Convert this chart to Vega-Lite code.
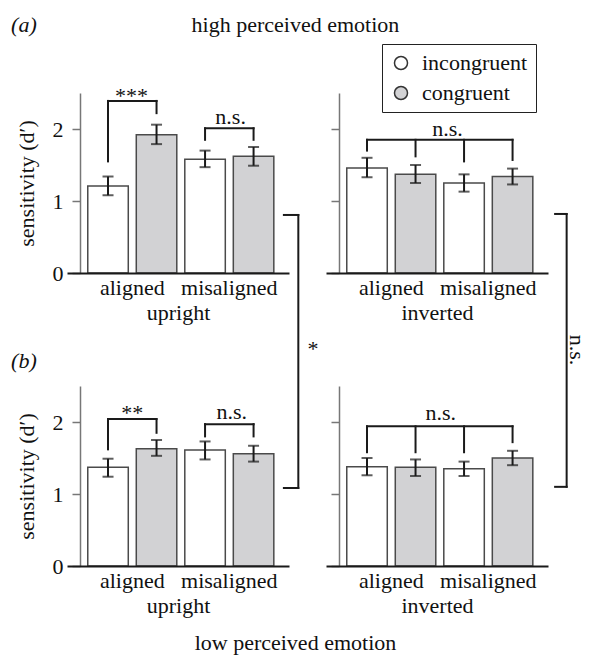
{
  "$schema": "https://vega.github.io/schema/vega-lite/v6.json",
  "autosize": {"type": "none"},
  "padding": {"left": 67, "top": 93, "right": 524, "bottom": 563},
  "datasets": {
    "bars": [
      {"panel": "A_up", "alignment": "aligned", "congruency": "incongruent", "d": 1.21, "lo": 1.08, "hi": 1.34},
      {"panel": "A_up", "alignment": "aligned", "congruency": "congruent", "d": 1.92, "lo": 1.79, "hi": 2.06},
      {"panel": "A_up", "alignment": "misaligned", "congruency": "incongruent", "d": 1.58, "lo": 1.47, "hi": 1.70},
      {"panel": "A_up", "alignment": "misaligned", "congruency": "congruent", "d": 1.62, "lo": 1.49, "hi": 1.75},
      {"panel": "A_inv", "alignment": "aligned", "congruency": "incongruent", "d": 1.46, "lo": 1.33, "hi": 1.60},
      {"panel": "A_inv", "alignment": "aligned", "congruency": "congruent", "d": 1.37, "lo": 1.25, "hi": 1.50},
      {"panel": "A_inv", "alignment": "misaligned", "congruency": "incongruent", "d": 1.25, "lo": 1.13, "hi": 1.37},
      {"panel": "A_inv", "alignment": "misaligned", "congruency": "congruent", "d": 1.34, "lo": 1.23, "hi": 1.45},
      {"panel": "B_up", "alignment": "aligned", "congruency": "incongruent", "d": 1.37, "lo": 1.24, "hi": 1.49},
      {"panel": "B_up", "alignment": "aligned", "congruency": "congruent", "d": 1.63, "lo": 1.53, "hi": 1.75},
      {"panel": "B_up", "alignment": "misaligned", "congruency": "incongruent", "d": 1.61, "lo": 1.48, "hi": 1.73},
      {"panel": "B_up", "alignment": "misaligned", "congruency": "congruent", "d": 1.56, "lo": 1.45, "hi": 1.67},
      {"panel": "B_inv", "alignment": "aligned", "congruency": "incongruent", "d": 1.38, "lo": 1.26, "hi": 1.50},
      {"panel": "B_inv", "alignment": "aligned", "congruency": "congruent", "d": 1.37, "lo": 1.25, "hi": 1.48},
      {"panel": "B_inv", "alignment": "misaligned", "congruency": "incongruent", "d": 1.35, "lo": 1.25, "hi": 1.45},
      {"panel": "B_inv", "alignment": "misaligned", "congruency": "congruent", "d": 1.50, "lo": 1.40, "hi": 1.60}
    ],
    "legs": [
      {"panel": "A_up", "bracket": "b1", "alignment": "aligned", "congruency": "incongruent", "top": 2.39, "bottom": 1.55},
      {"panel": "A_up", "bracket": "b1", "alignment": "aligned", "congruency": "congruent", "top": 2.39, "bottom": 2.22},
      {"panel": "A_up", "bracket": "b2", "alignment": "misaligned", "congruency": "incongruent", "top": 2.01, "bottom": 1.85},
      {"panel": "A_up", "bracket": "b2", "alignment": "misaligned", "congruency": "congruent", "top": 2.01, "bottom": 1.85},
      {"panel": "A_inv", "bracket": "b3", "alignment": "aligned", "congruency": "incongruent", "top": 1.85, "bottom": 1.70},
      {"panel": "A_inv", "bracket": "b3", "alignment": "aligned", "congruency": "congruent", "top": 1.85, "bottom": 1.62},
      {"panel": "A_inv", "bracket": "b3", "alignment": "misaligned", "congruency": "incongruent", "top": 1.85, "bottom": 1.55},
      {"panel": "A_inv", "bracket": "b3", "alignment": "misaligned", "congruency": "congruent", "top": 1.85, "bottom": 1.57},
      {"panel": "B_up", "bracket": "b4", "alignment": "aligned", "congruency": "incongruent", "top": 2.04, "bottom": 1.62},
      {"panel": "B_up", "bracket": "b4", "alignment": "aligned", "congruency": "congruent", "top": 2.04, "bottom": 1.85},
      {"panel": "B_up", "bracket": "b5", "alignment": "misaligned", "congruency": "incongruent", "top": 1.97, "bottom": 1.80},
      {"panel": "B_up", "bracket": "b5", "alignment": "misaligned", "congruency": "congruent", "top": 1.97, "bottom": 1.80},
      {"panel": "B_inv", "bracket": "b6", "alignment": "aligned", "congruency": "incongruent", "top": 1.94, "bottom": 1.58},
      {"panel": "B_inv", "bracket": "b6", "alignment": "aligned", "congruency": "congruent", "top": 1.94, "bottom": 1.58},
      {"panel": "B_inv", "bracket": "b6", "alignment": "misaligned", "congruency": "incongruent", "top": 1.94, "bottom": 1.58},
      {"panel": "B_inv", "bracket": "b6", "alignment": "misaligned", "congruency": "congruent", "top": 1.94, "bottom": 1.72}
    ],
    "notes": [
      {"panel": "A_up", "x": 0.291, "y": 2.46, "label": "***"},
      {"panel": "A_up", "x": 0.737, "y": 2.17, "label": "n.s."},
      {"panel": "A_up", "x": 1.108, "y": -1.05, "label": "*"},
      {"panel": "A_up", "x": 1.029, "y": 3.44, "label": "high perceived emotion"},
      {"panel": "A_inv", "x": 0.547, "y": 2.0, "label": "n.s."},
      {"panel": "B_up", "x": 0.294, "y": 2.12, "label": "**"},
      {"panel": "B_up", "x": 0.742, "y": 2.14, "label": "n.s."},
      {"panel": "B_up", "x": 1.029, "y": -1.07, "label": "low perceived emotion"},
      {"panel": "B_inv", "x": 0.517, "y": 2.12, "label": "n.s."}
    ],
    "tags": [
      {"panel": "A_up", "x": -0.194, "y": 3.44, "label": "(a)"},
      {"panel": "B_up", "x": -0.194, "y": 2.85, "label": "(b)"}
    ],
    "sidenotes": [
      {"panel": "A_inv", "x": 1.13, "y": -1.07, "label": "n.s."}
    ],
    "links": [
      {"panel": "A_up", "x": 1.042, "x2": 1.042, "y": 0.806, "y2": -2.986},
      {"panel": "A_up", "x": 0.977, "x2": 1.042, "y": 0.806, "y2": 0.806},
      {"panel": "A_up", "x": 0.977, "x2": 1.042, "y": -2.986, "y2": -2.986},
      {"panel": "A_inv", "x": 1.084, "x2": 1.084, "y": 0.82, "y2": -2.97},
      {"panel": "A_inv", "x": 1.032, "x2": 1.084, "y": 0.82, "y2": 0.82},
      {"panel": "A_inv", "x": 1.032, "x2": 1.084, "y": -2.97, "y2": -2.97}
    ]
  },
  "columns": 2,
  "spacing": {"row": 113, "column": 37},
  "bounds": "flush",
  "concat": [
    {
      "width": 222, "height": 180,
      "layer": [
        {
          "layer": [
            {
              "data": {"name": "bars"},
              "transform": [{"filter": "datum.panel == 'A_up'"}],
              "mark": {"type": "bar", "stroke": "#4a4a4a", "strokeWidth": 1.5},
              "encoding": {
                "x": {"field": "alignment", "type": "nominal", "sort": ["aligned", "misaligned"], "scale": {"paddingInner": 0, "paddingOuter": 0.144, "align": 0.6}, "axis": {"title": "upright", "labelAngle": 0, "ticks": false, "domainColor": "#1a1a1a", "domainWidth": 2, "labelPadding": 4, "titlePadding": 4, "zindex": 1}},
                "xOffset": {"field": "congruency", "type": "nominal", "sort": ["incongruent", "congruent"], "scale": {"paddingInner": 0.165, "paddingOuter": 0.0825}},
                "y": {"field": "d", "type": "quantitative", "scale": {"domain": [0, 2.5], "nice": false}, "axis": {"title": "sensitivity (d′)", "values": [0, 0.5, 1, 1.5, 2, 2.5], "labelExpr": "datum.value % 1 == 0 ? '' + datum.value : ''", "offset": -13, "domainColor": "#777", "domainWidth": 1.5, "tickColor": "#777", "tickWidth": 1.5, "tickSize": 8, "labelPadding": 9, "titlePadding": 14}},
                "fill": {"field": "congruency", "type": "nominal", "scale": {"domain": ["incongruent", "congruent"], "range": ["#ffffff", "#d2d2d4"]}, "legend": {"title": null, "labelLimit": 0, "labelExpr": "datum.label + '\u2002\u2002\u2009'"}}
              }
            },
            {
              "data": {"name": "bars"},
              "transform": [{"filter": "datum.panel == 'A_up'"}],
              "mark": {"type": "rule", "color": "#1a1a1a", "strokeWidth": 2},
              "encoding": {
                "x": {"field": "alignment", "type": "nominal", "sort": ["aligned", "misaligned"]},
                "xOffset": {"field": "congruency", "type": "nominal", "sort": ["incongruent", "congruent"]},
                "y": {"field": "lo", "type": "quantitative"},
                "y2": {"field": "hi"}
              }
            },
            {
              "data": {"name": "bars"},
              "transform": [{"filter": "datum.panel == 'A_up'"}],
              "mark": {"type": "tick", "color": "#1a1a1a", "thickness": 2, "size": 11, "orient": "horizontal"},
              "encoding": {
                "x": {"field": "alignment", "type": "nominal", "sort": ["aligned", "misaligned"]},
                "xOffset": {"field": "congruency", "type": "nominal", "sort": ["incongruent", "congruent"]},
                "y": {"field": "lo", "type": "quantitative"}
              }
            },
            {
              "data": {"name": "bars"},
              "transform": [{"filter": "datum.panel == 'A_up'"}],
              "mark": {"type": "tick", "color": "#1a1a1a", "thickness": 2, "size": 11, "orient": "horizontal"},
              "encoding": {
                "x": {"field": "alignment", "type": "nominal", "sort": ["aligned", "misaligned"]},
                "xOffset": {"field": "congruency", "type": "nominal", "sort": ["incongruent", "congruent"]},
                "y": {"field": "hi", "type": "quantitative"}
              }
            },
            {
              "data": {"name": "legs"},
              "transform": [{"filter": "datum.panel == 'A_up'"}],
              "mark": {"type": "rule", "color": "#1a1a1a", "strokeWidth": 2, "strokeCap": "square"},
              "encoding": {
                "x": {"field": "alignment", "type": "nominal", "sort": ["aligned", "misaligned"]},
                "xOffset": {"field": "congruency", "type": "nominal", "sort": ["incongruent", "congruent"]},
                "y": {"field": "top", "type": "quantitative"},
                "y2": {"field": "bottom"}
              }
            },
            {
              "data": {"name": "legs"},
              "transform": [{"filter": "datum.panel == 'A_up'"}],
              "mark": {"type": "line", "color": "#1a1a1a", "strokeWidth": 2, "strokeCap": "square"},
              "encoding": {
                "x": {"field": "alignment", "type": "nominal", "sort": ["aligned", "misaligned"]},
                "xOffset": {"field": "congruency", "type": "nominal", "sort": ["incongruent", "congruent"]},
                "y": {"field": "top", "type": "quantitative"},
                "detail": {"field": "bracket"}
              }
            }
          ]
        },
        {
          "layer": [
            {
              "data": {"name": "notes"},
              "transform": [{"filter": "datum.panel == 'A_up'"}],
              "mark": {"type": "text", "baseline": "middle", "align": "center"},
              "encoding": {
                "x": {"field": "x", "type": "quantitative", "scale": {"domain": [0, 1], "nice": false, "zero": false}, "axis": null},
                "y": {"field": "y", "type": "quantitative"},
                "text": {"field": "label"}
              }
            },
            {
              "data": {"name": "tags"},
              "transform": [{"filter": "datum.panel == 'A_up'"}],
              "mark": {"type": "text", "baseline": "middle", "align": "center", "fontStyle": "italic"},
              "encoding": {
                "x": {"field": "x", "type": "quantitative"},
                "y": {"field": "y", "type": "quantitative"},
                "text": {"field": "label"}
              }
            },
            {
              "data": {"name": "links"},
              "transform": [{"filter": "datum.panel == 'A_up'"}],
              "mark": {"type": "rule", "color": "#1a1a1a", "strokeWidth": 2, "strokeCap": "square"},
              "encoding": {
                "x": {"field": "x", "type": "quantitative"},
                "x2": {"field": "x2"},
                "y": {"field": "y", "type": "quantitative"},
                "y2": {"field": "y2"}
              }
            }
          ]
        }
      ],
      "resolve": {"scale": {"x": "independent"}}
    },
    {
      "width": 222, "height": 180,
      "layer": [
        {
          "layer": [
            {
              "data": {"name": "bars"},
              "transform": [{"filter": "datum.panel == 'A_inv'"}],
              "mark": {"type": "bar", "stroke": "#4a4a4a", "strokeWidth": 1.5},
              "encoding": {
                "x": {"field": "alignment", "type": "nominal", "sort": ["aligned", "misaligned"], "scale": {"paddingInner": 0, "paddingOuter": 0.144, "align": 0.6}, "axis": {"title": "inverted", "labelAngle": 0, "ticks": false, "domainColor": "#1a1a1a", "domainWidth": 2, "labelPadding": 4, "titlePadding": 4, "zindex": 1}},
                "xOffset": {"field": "congruency", "type": "nominal", "sort": ["incongruent", "congruent"], "scale": {"paddingInner": 0.165, "paddingOuter": 0.0825}},
                "y": {"field": "d", "type": "quantitative", "scale": {"domain": [0, 2.5], "nice": false}, "axis": {"title": null, "labels": false, "values": [0, 0.5, 1, 1.5, 2, 2.5], "offset": -13, "domainColor": "#777", "domainWidth": 1.5, "tickColor": "#777", "tickWidth": 1.5, "tickSize": 8}},
                "fill": {"field": "congruency", "type": "nominal", "scale": {"domain": ["incongruent", "congruent"], "range": ["#ffffff", "#d2d2d4"]}, "legend": {"title": null, "labelLimit": 0, "labelExpr": "datum.label + '\u2002\u2002\u2009'"}}
              }
            },
            {
              "data": {"name": "bars"},
              "transform": [{"filter": "datum.panel == 'A_inv'"}],
              "mark": {"type": "rule", "color": "#1a1a1a", "strokeWidth": 2},
              "encoding": {
                "x": {"field": "alignment", "type": "nominal", "sort": ["aligned", "misaligned"]},
                "xOffset": {"field": "congruency", "type": "nominal", "sort": ["incongruent", "congruent"]},
                "y": {"field": "lo", "type": "quantitative"},
                "y2": {"field": "hi"}
              }
            },
            {
              "data": {"name": "bars"},
              "transform": [{"filter": "datum.panel == 'A_inv'"}],
              "mark": {"type": "tick", "color": "#1a1a1a", "thickness": 2, "size": 11, "orient": "horizontal"},
              "encoding": {
                "x": {"field": "alignment", "type": "nominal", "sort": ["aligned", "misaligned"]},
                "xOffset": {"field": "congruency", "type": "nominal", "sort": ["incongruent", "congruent"]},
                "y": {"field": "lo", "type": "quantitative"}
              }
            },
            {
              "data": {"name": "bars"},
              "transform": [{"filter": "datum.panel == 'A_inv'"}],
              "mark": {"type": "tick", "color": "#1a1a1a", "thickness": 2, "size": 11, "orient": "horizontal"},
              "encoding": {
                "x": {"field": "alignment", "type": "nominal", "sort": ["aligned", "misaligned"]},
                "xOffset": {"field": "congruency", "type": "nominal", "sort": ["incongruent", "congruent"]},
                "y": {"field": "hi", "type": "quantitative"}
              }
            },
            {
              "data": {"name": "legs"},
              "transform": [{"filter": "datum.panel == 'A_inv'"}],
              "mark": {"type": "rule", "color": "#1a1a1a", "strokeWidth": 2, "strokeCap": "square"},
              "encoding": {
                "x": {"field": "alignment", "type": "nominal", "sort": ["aligned", "misaligned"]},
                "xOffset": {"field": "congruency", "type": "nominal", "sort": ["incongruent", "congruent"]},
                "y": {"field": "top", "type": "quantitative"},
                "y2": {"field": "bottom"}
              }
            },
            {
              "data": {"name": "legs"},
              "transform": [{"filter": "datum.panel == 'A_inv'"}],
              "mark": {"type": "line", "color": "#1a1a1a", "strokeWidth": 2, "strokeCap": "square"},
              "encoding": {
                "x": {"field": "alignment", "type": "nominal", "sort": ["aligned", "misaligned"]},
                "xOffset": {"field": "congruency", "type": "nominal", "sort": ["incongruent", "congruent"]},
                "y": {"field": "top", "type": "quantitative"},
                "detail": {"field": "bracket"}
              }
            }
          ]
        },
        {
          "layer": [
            {
              "data": {"name": "notes"},
              "transform": [{"filter": "datum.panel == 'A_inv'"}],
              "mark": {"type": "text", "baseline": "middle", "align": "center"},
              "encoding": {
                "x": {"field": "x", "type": "quantitative", "scale": {"domain": [0, 1], "nice": false, "zero": false}, "axis": null},
                "y": {"field": "y", "type": "quantitative"},
                "text": {"field": "label"}
              }
            },
            {
              "data": {"name": "sidenotes"},
              "transform": [{"filter": "datum.panel == 'A_inv'"}],
              "mark": {"type": "text", "baseline": "middle", "align": "center", "angle": 90},
              "encoding": {
                "x": {"field": "x", "type": "quantitative"},
                "y": {"field": "y", "type": "quantitative"},
                "text": {"field": "label"}
              }
            },
            {
              "data": {"name": "links"},
              "transform": [{"filter": "datum.panel == 'A_inv'"}],
              "mark": {"type": "rule", "color": "#1a1a1a", "strokeWidth": 2, "strokeCap": "square"},
              "encoding": {
                "x": {"field": "x", "type": "quantitative"},
                "x2": {"field": "x2"},
                "y": {"field": "y", "type": "quantitative"},
                "y2": {"field": "y2"}
              }
            }
          ]
        }
      ],
      "resolve": {"scale": {"x": "independent"}}
    },
    {
      "width": 222, "height": 180,
      "layer": [
        {
          "layer": [
            {
              "data": {"name": "bars"},
              "transform": [{"filter": "datum.panel == 'B_up'"}],
              "mark": {"type": "bar", "stroke": "#4a4a4a", "strokeWidth": 1.5},
              "encoding": {
                "x": {"field": "alignment", "type": "nominal", "sort": ["aligned", "misaligned"], "scale": {"paddingInner": 0, "paddingOuter": 0.144, "align": 0.6}, "axis": {"title": "upright", "labelAngle": 0, "ticks": false, "domainColor": "#1a1a1a", "domainWidth": 2, "labelPadding": 4, "titlePadding": 4, "zindex": 1}},
                "xOffset": {"field": "congruency", "type": "nominal", "sort": ["incongruent", "congruent"], "scale": {"paddingInner": 0.165, "paddingOuter": 0.0825}},
                "y": {"field": "d", "type": "quantitative", "scale": {"domain": [0, 2.5], "nice": false}, "axis": {"title": "sensitivity (d′)", "values": [0, 0.5, 1, 1.5, 2, 2.5], "labelExpr": "datum.value % 1 == 0 ? '' + datum.value : ''", "offset": -13, "domainColor": "#777", "domainWidth": 1.5, "tickColor": "#777", "tickWidth": 1.5, "tickSize": 8, "labelPadding": 9, "titlePadding": 14}},
                "fill": {"field": "congruency", "type": "nominal", "scale": {"domain": ["incongruent", "congruent"], "range": ["#ffffff", "#d2d2d4"]}, "legend": {"title": null, "labelLimit": 0, "labelExpr": "datum.label + '\u2002\u2002\u2009'"}}
              }
            },
            {
              "data": {"name": "bars"},
              "transform": [{"filter": "datum.panel == 'B_up'"}],
              "mark": {"type": "rule", "color": "#1a1a1a", "strokeWidth": 2},
              "encoding": {
                "x": {"field": "alignment", "type": "nominal", "sort": ["aligned", "misaligned"]},
                "xOffset": {"field": "congruency", "type": "nominal", "sort": ["incongruent", "congruent"]},
                "y": {"field": "lo", "type": "quantitative"},
                "y2": {"field": "hi"}
              }
            },
            {
              "data": {"name": "bars"},
              "transform": [{"filter": "datum.panel == 'B_up'"}],
              "mark": {"type": "tick", "color": "#1a1a1a", "thickness": 2, "size": 11, "orient": "horizontal"},
              "encoding": {
                "x": {"field": "alignment", "type": "nominal", "sort": ["aligned", "misaligned"]},
                "xOffset": {"field": "congruency", "type": "nominal", "sort": ["incongruent", "congruent"]},
                "y": {"field": "lo", "type": "quantitative"}
              }
            },
            {
              "data": {"name": "bars"},
              "transform": [{"filter": "datum.panel == 'B_up'"}],
              "mark": {"type": "tick", "color": "#1a1a1a", "thickness": 2, "size": 11, "orient": "horizontal"},
              "encoding": {
                "x": {"field": "alignment", "type": "nominal", "sort": ["aligned", "misaligned"]},
                "xOffset": {"field": "congruency", "type": "nominal", "sort": ["incongruent", "congruent"]},
                "y": {"field": "hi", "type": "quantitative"}
              }
            },
            {
              "data": {"name": "legs"},
              "transform": [{"filter": "datum.panel == 'B_up'"}],
              "mark": {"type": "rule", "color": "#1a1a1a", "strokeWidth": 2, "strokeCap": "square"},
              "encoding": {
                "x": {"field": "alignment", "type": "nominal", "sort": ["aligned", "misaligned"]},
                "xOffset": {"field": "congruency", "type": "nominal", "sort": ["incongruent", "congruent"]},
                "y": {"field": "top", "type": "quantitative"},
                "y2": {"field": "bottom"}
              }
            },
            {
              "data": {"name": "legs"},
              "transform": [{"filter": "datum.panel == 'B_up'"}],
              "mark": {"type": "line", "color": "#1a1a1a", "strokeWidth": 2, "strokeCap": "square"},
              "encoding": {
                "x": {"field": "alignment", "type": "nominal", "sort": ["aligned", "misaligned"]},
                "xOffset": {"field": "congruency", "type": "nominal", "sort": ["incongruent", "congruent"]},
                "y": {"field": "top", "type": "quantitative"},
                "detail": {"field": "bracket"}
              }
            }
          ]
        },
        {
          "layer": [
            {
              "data": {"name": "notes"},
              "transform": [{"filter": "datum.panel == 'B_up'"}],
              "mark": {"type": "text", "baseline": "middle", "align": "center"},
              "encoding": {
                "x": {"field": "x", "type": "quantitative", "scale": {"domain": [0, 1], "nice": false, "zero": false}, "axis": null},
                "y": {"field": "y", "type": "quantitative"},
                "text": {"field": "label"}
              }
            },
            {
              "data": {"name": "tags"},
              "transform": [{"filter": "datum.panel == 'B_up'"}],
              "mark": {"type": "text", "baseline": "middle", "align": "center", "fontStyle": "italic"},
              "encoding": {
                "x": {"field": "x", "type": "quantitative"},
                "y": {"field": "y", "type": "quantitative"},
                "text": {"field": "label"}
              }
            }
          ]
        }
      ],
      "resolve": {"scale": {"x": "independent"}}
    },
    {
      "width": 222, "height": 180,
      "layer": [
        {
          "layer": [
            {
              "data": {"name": "bars"},
              "transform": [{"filter": "datum.panel == 'B_inv'"}],
              "mark": {"type": "bar", "stroke": "#4a4a4a", "strokeWidth": 1.5},
              "encoding": {
                "x": {"field": "alignment", "type": "nominal", "sort": ["aligned", "misaligned"], "scale": {"paddingInner": 0, "paddingOuter": 0.144, "align": 0.6}, "axis": {"title": "inverted", "labelAngle": 0, "ticks": false, "domainColor": "#1a1a1a", "domainWidth": 2, "labelPadding": 4, "titlePadding": 4, "zindex": 1}},
                "xOffset": {"field": "congruency", "type": "nominal", "sort": ["incongruent", "congruent"], "scale": {"paddingInner": 0.165, "paddingOuter": 0.0825}},
                "y": {"field": "d", "type": "quantitative", "scale": {"domain": [0, 2.5], "nice": false}, "axis": {"title": null, "labels": false, "values": [0, 0.5, 1, 1.5, 2, 2.5], "offset": -13, "domainColor": "#777", "domainWidth": 1.5, "tickColor": "#777", "tickWidth": 1.5, "tickSize": 8}},
                "fill": {"field": "congruency", "type": "nominal", "scale": {"domain": ["incongruent", "congruent"], "range": ["#ffffff", "#d2d2d4"]}, "legend": {"title": null, "labelLimit": 0, "labelExpr": "datum.label + '\u2002\u2002\u2009'"}}
              }
            },
            {
              "data": {"name": "bars"},
              "transform": [{"filter": "datum.panel == 'B_inv'"}],
              "mark": {"type": "rule", "color": "#1a1a1a", "strokeWidth": 2},
              "encoding": {
                "x": {"field": "alignment", "type": "nominal", "sort": ["aligned", "misaligned"]},
                "xOffset": {"field": "congruency", "type": "nominal", "sort": ["incongruent", "congruent"]},
                "y": {"field": "lo", "type": "quantitative"},
                "y2": {"field": "hi"}
              }
            },
            {
              "data": {"name": "bars"},
              "transform": [{"filter": "datum.panel == 'B_inv'"}],
              "mark": {"type": "tick", "color": "#1a1a1a", "thickness": 2, "size": 11, "orient": "horizontal"},
              "encoding": {
                "x": {"field": "alignment", "type": "nominal", "sort": ["aligned", "misaligned"]},
                "xOffset": {"field": "congruency", "type": "nominal", "sort": ["incongruent", "congruent"]},
                "y": {"field": "lo", "type": "quantitative"}
              }
            },
            {
              "data": {"name": "bars"},
              "transform": [{"filter": "datum.panel == 'B_inv'"}],
              "mark": {"type": "tick", "color": "#1a1a1a", "thickness": 2, "size": 11, "orient": "horizontal"},
              "encoding": {
                "x": {"field": "alignment", "type": "nominal", "sort": ["aligned", "misaligned"]},
                "xOffset": {"field": "congruency", "type": "nominal", "sort": ["incongruent", "congruent"]},
                "y": {"field": "hi", "type": "quantitative"}
              }
            },
            {
              "data": {"name": "legs"},
              "transform": [{"filter": "datum.panel == 'B_inv'"}],
              "mark": {"type": "rule", "color": "#1a1a1a", "strokeWidth": 2, "strokeCap": "square"},
              "encoding": {
                "x": {"field": "alignment", "type": "nominal", "sort": ["aligned", "misaligned"]},
                "xOffset": {"field": "congruency", "type": "nominal", "sort": ["incongruent", "congruent"]},
                "y": {"field": "top", "type": "quantitative"},
                "y2": {"field": "bottom"}
              }
            },
            {
              "data": {"name": "legs"},
              "transform": [{"filter": "datum.panel == 'B_inv'"}],
              "mark": {"type": "line", "color": "#1a1a1a", "strokeWidth": 2, "strokeCap": "square"},
              "encoding": {
                "x": {"field": "alignment", "type": "nominal", "sort": ["aligned", "misaligned"]},
                "xOffset": {"field": "congruency", "type": "nominal", "sort": ["incongruent", "congruent"]},
                "y": {"field": "top", "type": "quantitative"},
                "detail": {"field": "bracket"}
              }
            }
          ]
        },
        {
          "layer": [
            {
              "data": {"name": "notes"},
              "transform": [{"filter": "datum.panel == 'B_inv'"}],
              "mark": {"type": "text", "baseline": "middle", "align": "center"},
              "encoding": {
                "x": {"field": "x", "type": "quantitative", "scale": {"domain": [0, 1], "nice": false, "zero": false}, "axis": null},
                "y": {"field": "y", "type": "quantitative"},
                "text": {"field": "label"}
              }
            }
          ]
        }
      ],
      "resolve": {"scale": {"x": "independent"}}
    }
  ],
  "config": {
    "font": "Liberation Serif",
    "view": {"stroke": null},
    "axis": {"labelFont": "Liberation Serif", "titleFont": "Liberation Serif", "labelFontSize": 22, "titleFontSize": 22, "titleFontWeight": "normal", "labelColor": "#111", "titleColor": "#111", "grid": false},
    "text": {"font": "Liberation Serif", "fontSize": 22, "color": "#111"},
    "legend": {
      "orient": "none", "legendX": 315, "legendY": -49,
      "labelFont": "Liberation Serif", "labelFontSize": 22, "labelColor": "#111",
      "symbolType": "circle", "symbolSize": 170, "symbolStrokeColor": "#333", "symbolStrokeWidth": 1.5,
      "strokeColor": "#222", "fillColor": "#ffffff", "padding": 8, "rowPadding": 8, "labelOffset": 10
    }
  }
}
